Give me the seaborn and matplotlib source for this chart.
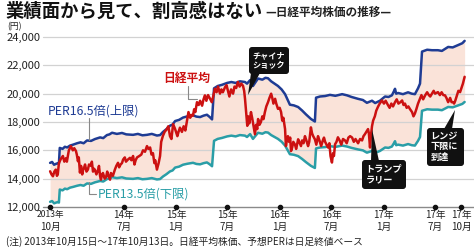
import numpy as np
import pandas as pd
import matplotlib
matplotlib.use("Agg")
import matplotlib.pyplot as plt
import matplotlib.dates as mdates
import seaborn as sns
from matplotlib.transforms import Affine2D, blended_transform_factory
from matplotlib.patches import FancyBboxPatch, Polygon
from matplotlib.lines import Line2D

# ---------------- data ----------------
nikkei_dates = [
    "2013-10-15", "2013-10-20", "2013-10-25", "2013-10-30", "2013-11-04", "2013-11-08",
    "2013-11-11", "2013-11-15", "2013-11-18", "2013-11-22", "2013-11-29", "2013-12-04",
    "2013-12-10", "2013-12-13", "2013-12-17", "2013-12-20", "2013-12-27", "2014-01-03",
    "2014-01-08", "2014-01-14", "2014-01-17", "2014-01-21", "2014-01-24", "2014-01-28",
    "2014-02-01", "2014-02-05", "2014-02-08", "2014-02-12", "2014-02-15", "2014-02-20",
    "2014-02-25", "2014-03-01", "2014-03-08", "2014-03-11", "2014-03-15", "2014-03-19",
    "2014-03-22", "2014-03-27", "2014-04-02", "2014-04-05", "2014-04-09", "2014-04-12",
    "2014-04-16", "2014-04-19", "2014-04-25", "2014-04-30", "2014-05-04", "2014-05-07",
    "2014-05-11", "2014-05-14", "2014-05-17", "2014-05-24", "2014-05-31", "2014-06-05",
    "2014-06-11", "2014-06-15", "2014-06-20", "2014-06-25", "2014-06-29", "2014-07-05",
    "2014-07-09", "2014-07-16", "2014-07-23", "2014-07-28", "2014-08-03", "2014-08-08",
    "2014-08-12", "2014-08-17", "2014-08-25", "2014-09-01", "2014-09-07", "2014-09-14",
    "2014-09-21", "2014-09-26", "2014-10-02", "2014-10-07", "2014-10-12", "2014-10-17",
    "2014-10-20", "2014-10-26", "2014-11-01", "2014-11-06", "2014-11-10", "2014-11-16",
    "2014-11-22", "2014-11-30", "2014-12-05", "2014-12-11", "2014-12-16", "2014-12-22",
    "2014-12-29", "2015-01-06", "2015-01-10", "2015-01-15", "2015-01-22", "2015-01-28",
    "2015-02-03", "2015-02-09", "2015-02-14", "2015-02-20", "2015-02-25", "2015-03-02",
    "2015-03-06", "2015-03-10", "2015-03-16", "2015-03-22", "2015-03-27", "2015-04-03",
    "2015-04-08", "2015-04-13", "2015-04-18", "2015-04-24", "2015-05-01", "2015-05-07",
    "2015-05-12", "2015-05-18", "2015-05-24", "2015-05-29", "2015-06-05", "2015-06-10",
    "2015-06-15", "2015-06-23", "2015-06-28", "2015-07-03", "2015-07-08", "2015-07-14",
    "2015-07-21", "2015-07-26", "2015-08-01", "2015-08-07", "2015-08-13", "2015-08-19",
    "2015-08-25", "2015-08-29", "2015-09-01", "2015-09-05", "2015-09-09", "2015-09-12",
    "2015-09-16", "2015-09-22", "2015-09-26", "2015-10-01", "2015-10-06", "2015-10-10",
    "2015-10-14", "2015-10-17", "2015-10-22", "2015-10-27", "2015-11-01", "2015-11-05",
    "2015-11-10", "2015-11-15", "2015-11-21", "2015-11-26", "2015-12-02", "2015-12-06",
    "2015-12-10", "2015-12-16", "2015-12-20", "2015-12-26", "2016-01-01", "2016-01-06",
    "2016-01-10", "2016-01-14", "2016-01-20", "2016-01-23", "2016-01-27", "2016-01-30",
    "2016-02-03", "2016-02-07", "2016-02-10", "2016-02-14", "2016-02-18", "2016-02-24",
    "2016-02-28", "2016-03-03", "2016-03-06", "2016-03-10", "2016-03-16", "2016-03-20",
    "2016-03-25", "2016-03-30", "2016-04-04", "2016-04-10", "2016-04-14", "2016-04-20",
    "2016-04-24", "2016-04-28", "2016-05-04", "2016-05-09", "2016-05-15", "2016-05-20",
    "2016-05-26", "2016-06-01", "2016-06-05", "2016-06-09", "2016-06-14", "2016-06-19",
    "2016-06-24", "2016-06-28", "2016-07-03", "2016-07-07", "2016-07-10", "2016-07-14",
    "2016-07-19", "2016-07-24", "2016-07-30", "2016-08-05", "2016-08-11", "2016-08-18",
    "2016-08-24", "2016-08-30", "2016-09-05", "2016-09-12", "2016-09-18", "2016-09-24",
    "2016-10-03", "2016-10-10", "2016-10-17", "2016-10-22", "2016-10-27", "2016-11-01",
    "2016-11-07", "2016-11-10", "2016-11-14", "2016-11-17", "2016-11-21", "2016-11-25",
    "2016-12-01", "2016-12-06", "2016-12-12", "2016-12-18", "2016-12-26", "2017-01-02",
    "2017-01-08", "2017-01-16", "2017-01-22", "2017-01-28", "2017-02-03", "2017-02-10",
    "2017-02-16", "2017-02-22", "2017-03-01", "2017-03-07", "2017-03-12", "2017-03-17",
    "2017-03-23", "2017-03-29", "2017-04-04", "2017-04-11", "2017-04-16", "2017-04-21",
    "2017-04-26", "2017-05-02", "2017-05-08", "2017-05-14", "2017-05-20", "2017-05-27",
    "2017-06-03", "2017-06-09", "2017-06-14", "2017-06-20", "2017-06-26", "2017-07-01",
    "2017-07-11", "2017-07-18", "2017-07-24", "2017-07-30", "2017-08-05", "2017-08-10",
    "2017-08-16", "2017-08-23", "2017-08-28", "2017-09-02", "2017-09-06", "2017-09-10",
    "2017-09-16", "2017-09-21", "2017-09-27", "2017-10-02", "2017-10-07", "2017-10-13",
]
nikkei_values = [
    14520, 14300, 14170, 14500, 14640, 14200,
    14300, 15100, 15230, 15400, 15600, 15200,
    15450, 15200, 15650, 16000, 16300, 16000,
    16150, 15950, 15700, 15230, 15500, 14430,
    14900, 14300, 14600, 14800, 15000, 14500,
    14640, 15000, 14900, 15200, 14500, 14700,
    14600, 14300, 14640, 14900, 14170, 13930,
    14300, 14400, 14000, 14100, 14500, 14300,
    14100, 13930, 14400, 14200, 14640, 14900,
    15120, 14800, 15000, 15100, 15350, 15500,
    15200, 15350, 15470, 15300, 15600, 15000,
    15300, 15500, 15600, 15700, 16000, 15900,
    16300, 16100, 16200, 15700, 15800, 15100,
    15300, 14640, 15100, 15600, 16600, 17020,
    17300, 17500, 17700, 17000, 16800, 17850,
    17500, 17000, 17300, 17600, 17300, 17700,
    17400, 18100, 18700, 18300, 18500, 18450,
    18900, 18700, 19400, 19200, 19500, 19150,
    19600, 19880, 19500, 19900, 19640, 19400,
    19800, 20350, 20100, 20500, 20000, 20300,
    20100, 20470, 20600, 20200, 19800, 20300,
    20000, 20500, 20400, 20830, 20500, 20710,
    20550, 20200, 19640, 18700, 17730, 18400,
    17900, 18700, 18300, 17700, 17140, 17800,
    17500, 18210, 17800, 18000, 18400, 18200,
    18700, 19100, 19400, 19700, 20000, 19700,
    19300, 19640, 19300, 18930, 19000, 18700,
    18100, 18300, 17500, 16300, 16800, 17000,
    16600, 16900, 15950, 16200, 16600, 16400,
    16100, 16500, 16780, 16600, 16300, 16700,
    16500, 17000, 16700, 16300, 16600, 17620,
    17200, 17000, 16780, 16400, 17000, 16700,
    16300, 16700, 16900, 16600, 16400, 16200,
    16500, 15600, 15140, 15800, 15600, 16430,
    16600, 16920, 16700, 16400, 16800, 16700,
    16500, 16900, 17000, 16900, 16600, 16800,
    16500, 16800, 16700, 17000, 17140, 17300,
    17500, 17200, 16200, 17000, 17700, 18100,
    18400, 18800, 19070, 19300, 19520, 19300,
    19500, 19200, 19000, 19300, 19100, 19400,
    19600, 19300, 19400, 19520, 19200, 19300,
    19000, 19100, 18900, 18700, 18400, 18600,
    18900, 19300, 19600, 19900, 19600, 19880,
    20100, 19900, 19800, 20000, 20200, 20000,
    20110, 19900, 20100, 19900, 19880, 19700,
    19400, 19700, 19400, 19400, 19300, 19500,
    19880, 20200, 20110, 20400, 20710, 21190,
]

# forecast EPS (yen); band = EPS x PER 13.5 .. 16.5
eps_dates = [
    "2013-10-15", "2013-10-22", "2013-10-29", "2013-11-05", "2013-11-12", "2013-11-15",
    "2013-11-18", "2013-11-28", "2013-12-06", "2013-12-14", "2013-12-24", "2014-01-04",
    "2014-01-18", "2014-01-30", "2014-02-10", "2014-02-22", "2014-03-08", "2014-03-22",
    "2014-04-09", "2014-04-20", "2014-05-03", "2014-05-12", "2014-05-21", "2014-06-07",
    "2014-06-25", "2014-07-10", "2014-08-03", "2014-08-20", "2014-09-05", "2014-09-21",
    "2014-10-08", "2014-10-26", "2014-11-06", "2014-11-16", "2014-11-28", "2014-12-11",
    "2014-12-20", "2014-12-29", "2015-01-12", "2015-01-26", "2015-02-10", "2015-03-02",
    "2015-03-14", "2015-03-27", "2015-04-08", "2015-04-20", "2015-04-30", "2015-05-08",
    "2015-05-15", "2015-05-28", "2015-06-12", "2015-06-30", "2015-07-15", "2015-07-30",
    "2015-08-14", "2015-09-01", "2015-09-08", "2015-09-19", "2015-09-29", "2015-10-10",
    "2015-10-17", "2015-11-01", "2015-11-12", "2015-11-21", "2015-12-02", "2015-12-14",
    "2015-12-26", "2016-01-08", "2016-01-20", "2016-02-06", "2016-02-20", "2016-03-06",
    "2016-03-20", "2016-04-03", "2016-04-20", "2016-05-04", "2016-05-08", "2016-05-22",
    "2016-06-09", "2016-06-26", "2016-07-15", "2016-08-08", "2016-08-25", "2016-09-10",
    "2016-10-03", "2016-10-20", "2016-11-03", "2016-11-21", "2016-12-02", "2016-12-19",
    "2017-01-06", "2017-01-18", "2017-01-30", "2017-02-06", "2017-02-10", "2017-02-14",
    "2017-02-21", "2017-03-10", "2017-03-28", "2017-04-10", "2017-04-21", "2017-05-02",
    "2017-05-09", "2017-05-16", "2017-06-03", "2017-06-20", "2017-07-11", "2017-07-25",
    "2017-08-16", "2017-09-01", "2017-09-20", "2017-10-05", "2017-10-13",
]
eps_values = [
    916, 920, 908, 912, 915, 912,
    980, 976, 985, 982, 990, 994,
    1000, 1004, 1000, 1012, 1010, 1018,
    1025, 1022, 1035, 1038, 1045, 1040,
    1044, 1038, 1036, 1040, 1034, 1036,
    1040, 1033, 1035, 1048, 1060, 1075,
    1080, 1095, 1100, 1110, 1115, 1120,
    1114, 1112, 1118, 1122, 1112, 1102,
    1235, 1245, 1250, 1258, 1262, 1258,
    1265, 1262, 1255, 1270, 1245, 1265,
    1277, 1272, 1280, 1278, 1265, 1255,
    1245, 1230, 1210, 1165, 1162, 1155,
    1140, 1123, 1104, 1093, 1195, 1200,
    1202, 1207, 1203, 1210, 1205, 1198,
    1190, 1185, 1173, 1182, 1172, 1182,
    1200, 1198, 1205, 1222, 1233, 1212,
    1215, 1210, 1218, 1212, 1210, 1235,
    1255, 1392, 1400, 1398, 1398, 1395,
    1412, 1410, 1420, 1428, 1438,
]
per_upper = 16.5
per_lower = 13.5

tick_dates = ["2013-10-15", "2014-07-01", "2015-01-01", "2015-07-01", "2016-01-01",
              "2016-07-01", "2017-01-01", "2017-07-01", "2017-10-01"]
tick_years = ["2013年", "14年", "15年", "15年", "16年", "16年", "17年", "17年", "17年"]
tick_months = ["10月", "7月", "1月", "7月", "1月", "7月", "1月", "7月", "10月"]
y_ticks = [12000, 14000, 16000, 18000, 20000, 22000, 24000]

# ---------------- style ----------------
sns.set_theme(style="white")
plt.rcParams["font.family"] = ["Noto Sans CJK JP", "DejaVu Sans"]

BLUE = "#1f3c94"
RED = "#cc1111"
TEAL = "#2a9ea7"
FILL = "#fae3d9"

W, H = 474, 248
fig = plt.figure(figsize=(W / 100, H / 100), dpi=100)
fig.patch.set_facecolor("white")
T = Affine2D().scale(1 / W, -1 / H).translate(0, 1) + fig.transFigure

ax = fig.add_axes([43 / W, 1 - 207 / H, (W - 43) / W, 170 / H])
ax.set_facecolor("none")

nk = pd.DataFrame({"date": pd.to_datetime(nikkei_dates), "value": nikkei_values})
eps = np.array(eps_values, dtype=float)
band = pd.DataFrame({"date": pd.to_datetime(eps_dates),
                     "upper": eps * per_upper, "lower": eps * per_lower})

ax.fill_between(band["date"], band["lower"], band["upper"], color=FILL, lw=0, zorder=1)
for yv in y_ticks[1:]:
    ax.axhline(yv, color="#d2d2d2", lw=0.9, zorder=1.5, clip_on=False)
ax.axhline(y_ticks[0], color="#8a8a8a", lw=1.0, zorder=1.6, clip_on=False)

sns.lineplot(data=band, x="date", y="lower", color=TEAL, lw=1.8, ax=ax, zorder=3)
sns.lineplot(data=band, x="date", y="upper", color=BLUE, lw=1.8, ax=ax, zorder=3)
sns.lineplot(data=nk, x="date", y="value", color=RED, lw=1.8, ax=ax, zorder=4)

ax.set_xlim(pd.Timestamp("2013-09-20"), pd.Timestamp("2017-11-15"))
ax.set_ylim(12000, 24000)
ax.set_xlabel("")
ax.set_ylabel("")
for s in ax.spines.values():
    s.set_visible(False)
ax.grid(False)
ax.set_xticks([])
ax.set_yticks(y_ticks)
ax.set_yticklabels([f"{v:,}" for v in y_ticks], fontsize=8, color="#222222")
ax.tick_params(axis="y", length=0, pad=2)

# tick dots and two-line labels
td = pd.to_datetime(tick_dates)
ax.plot(td, [y_ticks[0]] * len(td), "o", color="#111111", ms=3, clip_on=False, zorder=5)
bt = blended_transform_factory(ax.transData, T)
for i, (d, yl, ml) in enumerate(zip(td, tick_years, tick_months)):
    xn = mdates.date2num(d)
    ax.text(xn, 215, yl, transform=bt, ha="center", va="center",
            fontsize=6.2 if i == 0 else 7, color="#222222")
    ax.text(xn, 226.5, ml, transform=bt, ha="center", va="center",
            fontsize=7, color="#222222")

# ---------------- texts ----------------
fig.text(6, 11, "業績面から見て、割高感はない", transform=T, fontsize=13.2,
         fontweight="bold", ha="left", va="center", color="#111111")
fig.text(265, 12.5, "—日経平均株価の推移—", transform=T, fontsize=8.4,
         fontweight="bold", ha="left", va="center", color="#222222")
fig.text(7, 27, "(円)", transform=T, fontsize=6.3, ha="left", va="center", color="#222222")
fig.text(6, 241.5, "(注) 2013年10月15日～17年10月13日。日経平均株価、予想PERは日足終値ベース",
         transform=T, fontsize=7, ha="left", va="center", color="#222222")

# series labels with leader lines
fig.text(48, 111.5, "PER16.5倍(上限)", transform=T, fontsize=8.8, ha="left", va="center", color=BLUE)
fig.add_artist(Line2D([89, 89], [118, 140], transform=T, color="#888888", lw=0.8))

fig.text(98, 194, "PER13.5倍(下限)", transform=T, fontsize=8.8, ha="left", va="center", color=TEAL)
fig.add_artist(Line2D([89.5, 89.5, 96], [182, 194, 194], transform=T, color="#888888", lw=0.8))

fig.text(163, 78, "日経平均", transform=T, fontsize=8.5, ha="left", va="center",
         color=RED, fontweight="bold")
fig.add_artist(Line2D([188, 188, 197], [86, 99, 99], transform=T, color="#888888", lw=0.8))

# black callout boxes
def callout(x0, y0, w, h, lines, tri, fs):
    box = FancyBboxPatch((x0, y0), w, h, boxstyle="round,pad=0,rounding_size=3",
                         transform=T, facecolor="#111111", edgecolor="none")
    fig.add_artist(box)
    fig.add_artist(Polygon(tri, closed=True, transform=T, facecolor="#111111",
                           edgecolor="none"))
    n = len(lines)
    step = (h - 6) / n
    for k, s in enumerate(lines):
        fig.text(x0 + 3.5, y0 + 3 + step * (k + 0.5), s, transform=T, fontsize=fs,
                 fontweight="bold", color="white", ha="left", va="center")

callout(249, 47, 40, 27, ["チャイナ", "ショック"], [(251, 73), (260, 73), (248, 95)], 5.9)
callout(362, 160, 44, 29, ["トランプ", "ラリー"], [(371, 161), (379, 161), (372, 129)], 6.6)
callout(427, 128, 37, 38, ["レンジ", "下限に", "到達"], [(444, 129), (452, 129), (455, 110)], 6.6)

fig.savefig("out.png", dpi=100, facecolor="white")
